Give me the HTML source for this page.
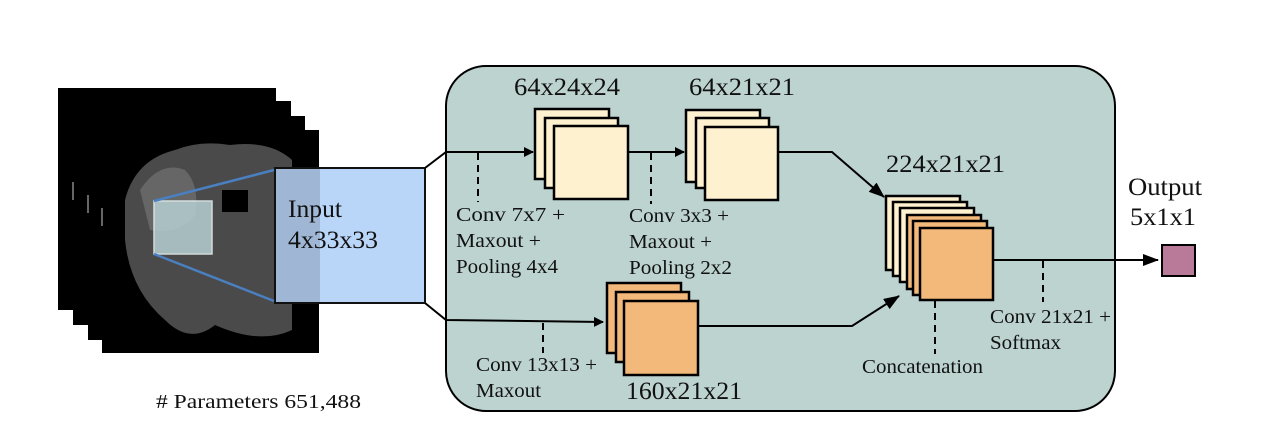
<!DOCTYPE html>
<html><head><style>body{margin:0;background:#fff}svg{display:block}text{font-family:"Liberation Serif",serif;fill:#111}</style></head><body>
<svg width="1268" height="436" viewBox="0 0 1268 436" xmlns="http://www.w3.org/2000/svg">
<defs><marker id="a" markerWidth="10" markerHeight="10" refX="9" refY="5" orient="auto" markerUnits="userSpaceOnUse"><path d="M0,0 L10,5 L0,10 z" fill="#000"/></marker>
<marker id="b" markerWidth="16" markerHeight="12" refX="15" refY="6" orient="auto" markerUnits="userSpaceOnUse"><path d="M0,0 L16,6 L0,12 z" fill="#000"/></marker></defs>
<rect x="58" y="88" width="218" height="222" fill="#000"/>
<rect x="73" y="101" width="218" height="224" fill="#000"/>
<rect x="88" y="116" width="217" height="224" fill="#000"/>
<rect x="102" y="130" width="217" height="223" fill="#000"/>
<g fill="#666"><rect x="72" y="182" width="2" height="18"/><rect x="87" y="195" width="2" height="18"/><rect x="101" y="208" width="2" height="18"/></g>
<path d="M125,200 Q135,160 175,150 Q200,140 230,145 Q270,140 292,160 L292,330 Q260,345 215,325 Q190,345 165,320 Q130,290 125,240 Z" fill="#4a4a4a"/>
<path d="M140,190 Q160,160 185,170 Q200,185 195,215 Q180,235 150,230 Z" fill="#7a7a7a" opacity="0.6"/>
<rect x="222" y="190" width="26" height="22" fill="#000"/>
<rect x="275" y="168" width="150" height="135" fill="#b9d5f7" stroke="#111" stroke-width="2"/>
<rect x="276" y="169" width="44" height="133" fill="#9fb7d4"/>
<rect x="154" y="201" width="58" height="53" fill="#b6cfd3" opacity="0.85" stroke="#e8f4f4" stroke-width="1.5"/>
<line x1="154" y1="201" x2="274" y2="170" stroke="#4a7fc0" stroke-width="2.5"/>
<line x1="154" y1="254" x2="274" y2="301" stroke="#4a7fc0" stroke-width="2.5"/>
<g font-size="25"><text x="288" y="217" textLength="54" lengthAdjust="spacingAndGlyphs">Input</text>
<text x="288" y="248" textLength="90" lengthAdjust="spacingAndGlyphs">4x33x33</text></g>
<rect x="446" y="66" width="669" height="345" rx="40" fill="#bcd3d0" stroke="#000" stroke-width="2"/>
<polyline points="425,168 446,152 533,152" fill="none" stroke="#000" stroke-width="2" marker-end="url(#a)"/>
<polyline points="425,303 446,320 603,322" fill="none" stroke="#000" stroke-width="2" marker-end="url(#a)"/>
<g stroke="#000" stroke-width="2.5" fill="#fdf1cf">
<rect x="535" y="109" width="74" height="70"/><rect x="545" y="118" width="73" height="70"/><rect x="554" y="126" width="74" height="73"/>
<rect x="686" y="110" width="74" height="72"/><rect x="696" y="118" width="73" height="70"/><rect x="705" y="127" width="73" height="73"/>
</g>
<g stroke="#000" stroke-width="2.5" fill="#f3b97a">
<rect x="607" y="283" width="74" height="70"/><rect x="616" y="292" width="73" height="70"/><rect x="624" y="301" width="74" height="74"/>
</g>
<g stroke="#000" stroke-width="2.5">
<rect x="886" y="196" width="74" height="74" fill="#fdf1cf"/><rect x="893" y="202" width="74" height="74" fill="#fdf1cf"/><rect x="900" y="208" width="74" height="74" fill="#fdf1cf"/>
<rect x="907" y="215" width="74" height="74" fill="#f3b97a"/><rect x="913" y="221" width="74" height="74" fill="#f3b97a"/><rect x="920" y="228" width="73" height="72" fill="#f3b97a"/>
</g>
<line x1="628" y1="152" x2="684" y2="152" stroke="#000" stroke-width="2" marker-end="url(#a)"/>
<polyline points="778,152 832,152 884,197" fill="none" stroke="#000" stroke-width="2" marker-end="url(#b)"/>
<polyline points="698,326 852,326 899,296" fill="none" stroke="#000" stroke-width="2" marker-end="url(#b)"/>
<line x1="993" y1="260" x2="1158" y2="260" stroke="#000" stroke-width="2" marker-end="url(#b)"/>
<g stroke="#000" stroke-width="2" stroke-dasharray="7,5">
<line x1="478" y1="153" x2="478" y2="202"/><line x1="651" y1="153" x2="651" y2="204"/><line x1="543" y1="323" x2="543" y2="353"/>
<line x1="935" y1="301" x2="935" y2="354"/><line x1="1043" y1="261" x2="1043" y2="302"/>
</g>
<rect x="1162" y="245" width="33" height="31" fill="#b87a98" stroke="#000" stroke-width="2"/>
<g font-size="25">
<text x="514" y="95" textLength="106" lengthAdjust="spacingAndGlyphs">64x24x24</text>
<text x="689" y="95" textLength="106" lengthAdjust="spacingAndGlyphs">64x21x21</text>
<text x="886" y="172" textLength="119" lengthAdjust="spacingAndGlyphs">224x21x21</text>
<text x="626" y="399" textLength="116" lengthAdjust="spacingAndGlyphs">160x21x21</text>
<text x="1128" y="195" textLength="74" lengthAdjust="spacingAndGlyphs">Output</text>
<text x="1130" y="225" textLength="66" lengthAdjust="spacingAndGlyphs">5x1x1</text></g>
<g font-size="20">
<text x="456" y="221" textLength="109" lengthAdjust="spacingAndGlyphs">Conv 7x7 +</text>
<text x="456" y="247" textLength="85" lengthAdjust="spacingAndGlyphs">Maxout +</text>
<text x="456" y="273" textLength="102" lengthAdjust="spacingAndGlyphs">Pooling 4x4</text>
<text x="629" y="222" textLength="100" lengthAdjust="spacingAndGlyphs">Conv 3x3 +</text>
<text x="629" y="248" textLength="83" lengthAdjust="spacingAndGlyphs">Maxout +</text>
<text x="629" y="274" textLength="103" lengthAdjust="spacingAndGlyphs">Pooling 2x2</text>
<text x="476" y="371" textLength="121" lengthAdjust="spacingAndGlyphs">Conv 13x13 +</text>
<text x="476" y="397" textLength="65" lengthAdjust="spacingAndGlyphs">Maxout</text>
<text x="862" y="373" textLength="121" lengthAdjust="spacingAndGlyphs">Concatenation</text>
<text x="990" y="323" textLength="121" lengthAdjust="spacingAndGlyphs">Conv 21x21 +</text>
<text x="990" y="349" textLength="71" lengthAdjust="spacingAndGlyphs">Softmax</text>
<text x="156" y="408" textLength="205" lengthAdjust="spacingAndGlyphs"># Parameters  651,488</text></g>
</svg>
</body></html>
